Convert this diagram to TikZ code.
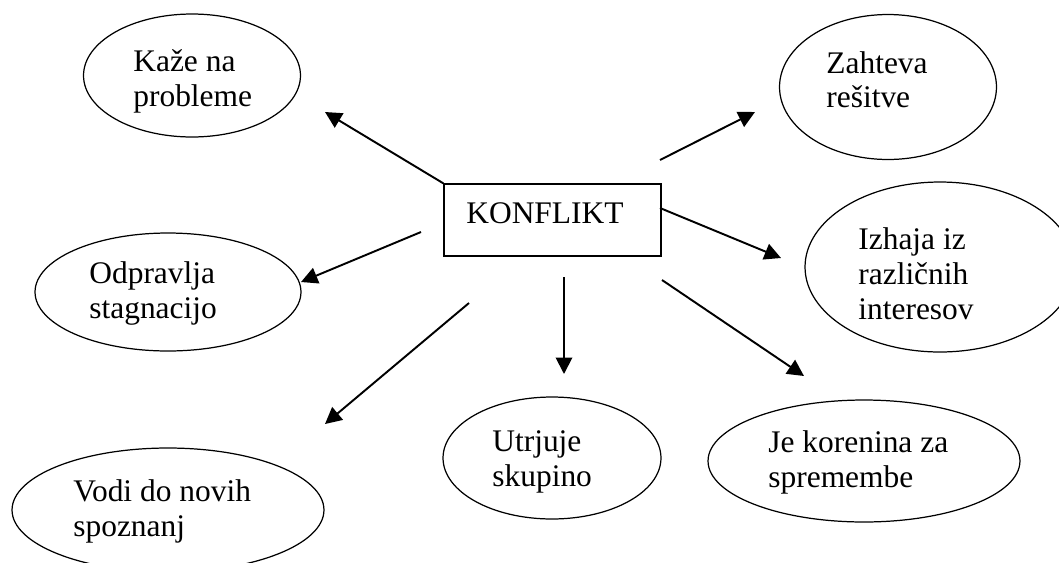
\documentclass[tikz,border=0pt]{standalone}
\usepackage{fontspec}
\setmainfont{Liberation Serif}
\usetikzlibrary{shapes.geometric,arrows.meta}

\begin{document}
\begin{tikzpicture}[x=0.02cm,y=-0.02cm,
        bubble/.style={ellipse,draw,line width=0.7pt,inner sep=0pt},
        txt/.style={anchor=north west,inner sep=0pt,align=left,font=\fontsize{17.9}{19.8}\selectfont},
        arr/.style={line width=1.1pt,-{Triangle[length=0.33cm,width=0.33cm]}}]
        \useasboundingbox (0,0) rectangle (1059,562);
        % Draw the central box
        \node[draw,line width=0.75pt,minimum width=4.34cm,minimum height=1.44cm,inner sep=0pt] (konflikt) at (552.5,220) {};
        \node[txt] (konfliktT) at (466,202.5) {KONFLIKT};
        % Draw the ellipses
        \node[bubble,minimum width=4.34cm,minimum height=2.46cm] (kaze) at (192,75.5) {};
        \node[bubble,minimum width=4.34cm,minimum height=2.90cm] (zahteva) at (888,87) {};
        \node[bubble,minimum width=5.40cm,minimum height=3.40cm] (izhaja) at (940,267) {};
        \node[bubble,minimum width=5.32cm,minimum height=2.36cm] (odpravlja) at (168,292) {};
        \node[bubble,minimum width=6.24cm,minimum height=2.48cm] (vodi) at (168,510) {};
        \node[bubble,minimum width=4.36cm,minimum height=2.44cm] (utrjuje) at (552,458) {};
        \node[bubble,minimum width=6.24cm,minimum height=2.44cm] (korenina) at (864,461) {};
        % Label the ellipses
        \node[txt] (kazeT) at (133,49.5) {Kaže na\\probleme};
        \node[txt] (zahtevaT) at (826,51) {Zahteva\\rešitve};
        \node[txt] (izhajaT) at (858,227.5) {Izhaja iz\\različnih\\interesov};
        \node[txt] (odpravljaT) at (89,261.5) {Odpravlja\\stagnacijo};
        \node[txt] (vodiT) at (73,479.5) {Vodi do novih\\spoznanj};
        \node[txt] (utrjujeT) at (492,430.5) {Utrjuje\\skupino};
        \node[txt] (koreninaT) at (768,430.5) {Je korenina za\\spremembe};
        % Define arrow ends
        \coordinate (A1) at (325,112);
        \coordinate (B0) at (660,160);
        \coordinate (B1) at (755,112);
        \coordinate (C0) at (660,208);
        \coordinate (C1) at (781,258);
        \coordinate (D0) at (421,232);
        \coordinate (D1) at (301,282);
        \coordinate (E0) at (469,303);
        \coordinate (E1) at (325,424);
        \coordinate (F0) at (564,277);
        \coordinate (F1) at (564,374);
        \coordinate (G0) at (662,280);
        \coordinate (G1) at (804,376);
        % Draw the arrows
        \draw[arr] (konflikt.north west) -- (A1);
        \draw[arr] (B0) -- (B1);
        \draw[arr] (C0) -- (C1);
        \draw[arr] (D0) -- (D1);
        \draw[arr] (E0) -- (E1);
        \draw[arr] (F0) -- (F1);
        \draw[arr] (G0) -- (G1);
\end{tikzpicture}
\end{document}
